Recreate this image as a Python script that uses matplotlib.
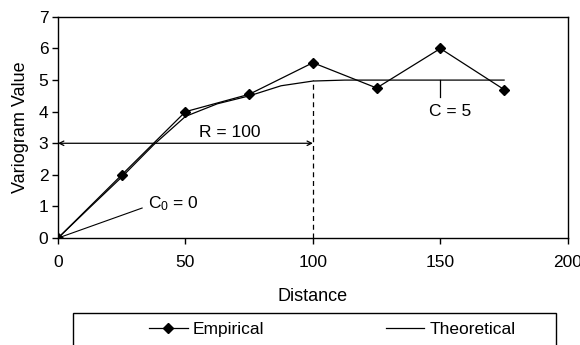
import matplotlib.pyplot as plt
from matplotlib.patches import Rectangle

plt.rcParams['font.family'] = ['Liberation Sans', 'DejaVu Sans']
plt.rcParams['font.size'] = 12.5

# Empirical variogram points
emp_dist = [0, 25, 50, 75, 100, 125, 150, 175]
emp_val = [0, 2.0, 4.0, 4.55, 5.55, 4.75, 6.0, 4.7]

# Theoretical model
theo_dist = [0, 12.5, 25, 37.5, 50, 62.5, 75, 87.5, 100, 112.5, 125, 150, 175]
theo_val = [0, 0.97, 1.93, 2.95, 3.85, 4.25, 4.5, 4.82, 4.97, 5.0, 5.0, 5.0, 5.0]

range_r = 100
sill_c = 5

fig = plt.figure(figsize=(5.8, 3.45), dpi=100)
ax = fig.add_axes([0.1, 0.31, 0.879, 0.641])

ax.plot(theo_dist, theo_val, color='black', lw=0.9, label='Theoretical')
ax.plot(emp_dist, emp_val, color='black', lw=0.9, marker='D', ms=5.5,
        label='Empirical')

# range arrow
ax.annotate('', xy=(0, 3), xytext=(range_r, 3),
            arrowprops=dict(arrowstyle='<->', color='black', lw=0.9,
                            shrinkA=0, shrinkB=0, mutation_scale=8))
ax.text(67.5, 3.1, 'R = 100', ha='center', va='bottom')
ax.plot([range_r, range_r], [0, sill_c], color='black', lw=0.9, ls=(0, (4, 3)))

# sill marker
ax.plot([150, 150], [sill_c, 4.47], color='black', lw=0.9)
ax.text(154, 3.99, 'C = 5', ha='center', va='center')

# nugget
ax.plot([0, 33], [0, 0.95], color='black', lw=0.8)
ax.text(35.5, 1.1, '$\\mathregular{C_0}$ = 0', ha='left', va='center')

ax.set_xlim(0, 200)
ax.set_ylim(0, 7)
ax.set_xticks([0, 50, 100, 150, 200])
ax.set_yticks(range(8))
ax.tick_params(axis='x', direction='out', length=4, width=1, pad=8)
ax.tick_params(axis='y', direction='out', length=4, width=1, pad=3)
for s in ax.spines.values():
    s.set_linewidth(1)
ax.set_xlabel('Distance', labelpad=13, fontsize=13)
ax.set_ylabel('Variogram Value', labelpad=7, fontsize=13)

# legend box (bottom edge runs off the figure)
fig.patches.append(Rectangle((73 / 580, -0.05), (556 - 73) / 580, 0.143,
                             transform=fig.transFigure, fill=False,
                             edgecolor='black', lw=1))
h, l = ax.get_legend_handles_labels()
leg = fig.legend([h[1], h[0]], [l[1], l[0]], ncol=2, loc='center',
                 bbox_to_anchor=(0.573, 0.045), frameon=False,
                 handlelength=2.2, handletextpad=0.3, columnspacing=7.0,
                 borderaxespad=0, borderpad=0)

fig.savefig('out.png', dpi=100)
